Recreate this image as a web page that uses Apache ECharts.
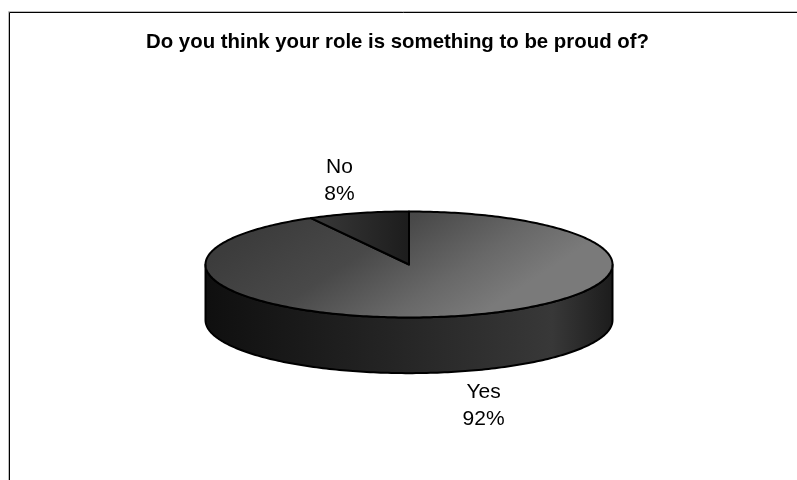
<!DOCTYPE html>
<html>
<head>
<meta charset="utf-8">
<style>html,body{margin:0;padding:0;background:#fff}#chart{width:797px;height:480px}</style>
<script src="https://cdn.jsdelivr.net/npm/echarts@6/dist/echarts.min.js"></script>
</head>
<body>
<div id="chart"></div>
<script>
const titleText = 'Do you think your role is something to be proud of?';
const categories = ['Yes', 'No'];
const shares = [92, 8];

// Height of the disc's rim, in units of the disc's vertical radius.
const RIM = 1.05;
const total = shares.reduce((a, b) => a + b, 0);
const STEP = Math.PI / 180;
const FONT = '"Liberation Sans", Arial, sans-serif';

const topFills = [
  new echarts.graphic.LinearGradient(0.4, -0.5, 0.66, 1, [
    { offset: 0, color: '#3c3c3c' },
    { offset: 0.4, color: '#494949' },
    { offset: 0.75, color: '#686868' },
    { offset: 1, color: '#7a7a7a' }
  ]),
  new echarts.graphic.LinearGradient(0, 0, 1, 0, [
    { offset: 0, color: '#3a3a3a' },
    { offset: 1, color: '#1c1c1c' }
  ])
];
const rimFill = new echarts.graphic.LinearGradient(0, 0, 1, 0, [
  { offset: 0, color: '#0f0f0f' },
  { offset: 0.45, color: '#242424' },
  { offset: 0.85, color: '#383838' },
  { offset: 1, color: '#1c1c1c' }
]);
// Pixel shift of each label from the rim point at the slice's middle angle.
const labelShift = [[24, 90], [-19, -32]];

function rimPoint(api, angle, drop) {
  return api.coord([Math.sin(angle), Math.cos(angle) - drop]);
}

function renderSlice(params, api) {
  const i = params.dataIndex;
  const before = shares.slice(0, i).reduce((a, b) => a + b, 0);
  const start = before / total * 2 * Math.PI;
  const end = (before + api.value(1)) / total * 2 * Math.PI;
  const children = [];

  // Side wall: only the part of the slice on the front half of the disc.
  const from = Math.max(start, Math.PI / 2);
  const to = Math.min(end, 3 * Math.PI / 2);
  if (to > from) {
    const lower = [];
    const upper = [];
    for (let a = from; a < to; a += STEP) {
      upper.push(rimPoint(api, a, 0));
      lower.push(rimPoint(api, a, RIM));
    }
    upper.push(rimPoint(api, to, 0));
    lower.push(rimPoint(api, to, RIM));
    children.push({
      type: 'polygon',
      shape: { points: upper.concat(lower.reverse()) },
      style: { fill: rimFill, stroke: '#000', lineWidth: 2, lineJoin: 'round' }
    });
  }

  // Top face of the slice.
  const face = [api.coord([0, 0])];
  for (let a = start; a < end; a += STEP) face.push(rimPoint(api, a, 0));
  face.push(rimPoint(api, end, 0));
  children.push({
    type: 'polygon',
    shape: { points: face },
    style: { fill: topFills[i], stroke: '#000', lineWidth: 2, lineJoin: 'round' }
  });

  // Category name and percentage.
  const mid = (start + end) / 2;
  const anchor = rimPoint(api, mid, 0);
  const percent = Math.round(api.value(1) / total * 100);
  children.push({
    type: 'text',
    z2: 10,
    style: {
      text: categories[i] + '\n' + percent + '%',
      x: anchor[0] + labelShift[i][0],
      y: anchor[1] + labelShift[i][1],
      align: 'center',
      verticalAlign: 'middle',
      font: '21px ' + FONT,
      lineHeight: 27,
      fill: '#000'
    }
  });
  return { type: 'group', children };
}

const chart = echarts.init(document.getElementById('chart'), null, { renderer: 'canvas' });
chart.setOption({
  animation: false,
  backgroundColor: '#fff',
  title: {
    text: titleText,
    left: 392.5,
    top: 27,
    textAlign: 'center',
    textStyle: { fontFamily: FONT, fontWeight: 'bold', fontSize: 20.4, color: '#000' }
  },
  // The unit disc: -1..1 on both axes spans the ellipse of the top face.
  grid: { left: 205.5, width: 407, top: 211.5, height: 106 },
  xAxis: { type: 'value', min: -1, max: 1, show: false },
  yAxis: { type: 'value', min: -1, max: 1, show: false },
  graphic: [
    { type: 'polyline', silent: true, shape: { points: [[8.5, 480], [8.5, 11.5], [797, 11.5]] },
      style: { fill: 'none', stroke: '#bdbdbd', lineWidth: 1 } },
    { type: 'polyline', silent: true, shape: { points: [[9.5, 480], [9.5, 12.5], [797, 12.5]] },
      style: { fill: 'none', stroke: '#000', lineWidth: 1 } }
  ],
  series: [{
    type: 'custom',
    coordinateSystem: 'cartesian2d',
    clip: false,
    renderItem: renderSlice,
    encode: { x: 0, y: 1 },
    data: shares.map((v, i) => [i, v])
  }]
});
</script>
</body>
</html>
